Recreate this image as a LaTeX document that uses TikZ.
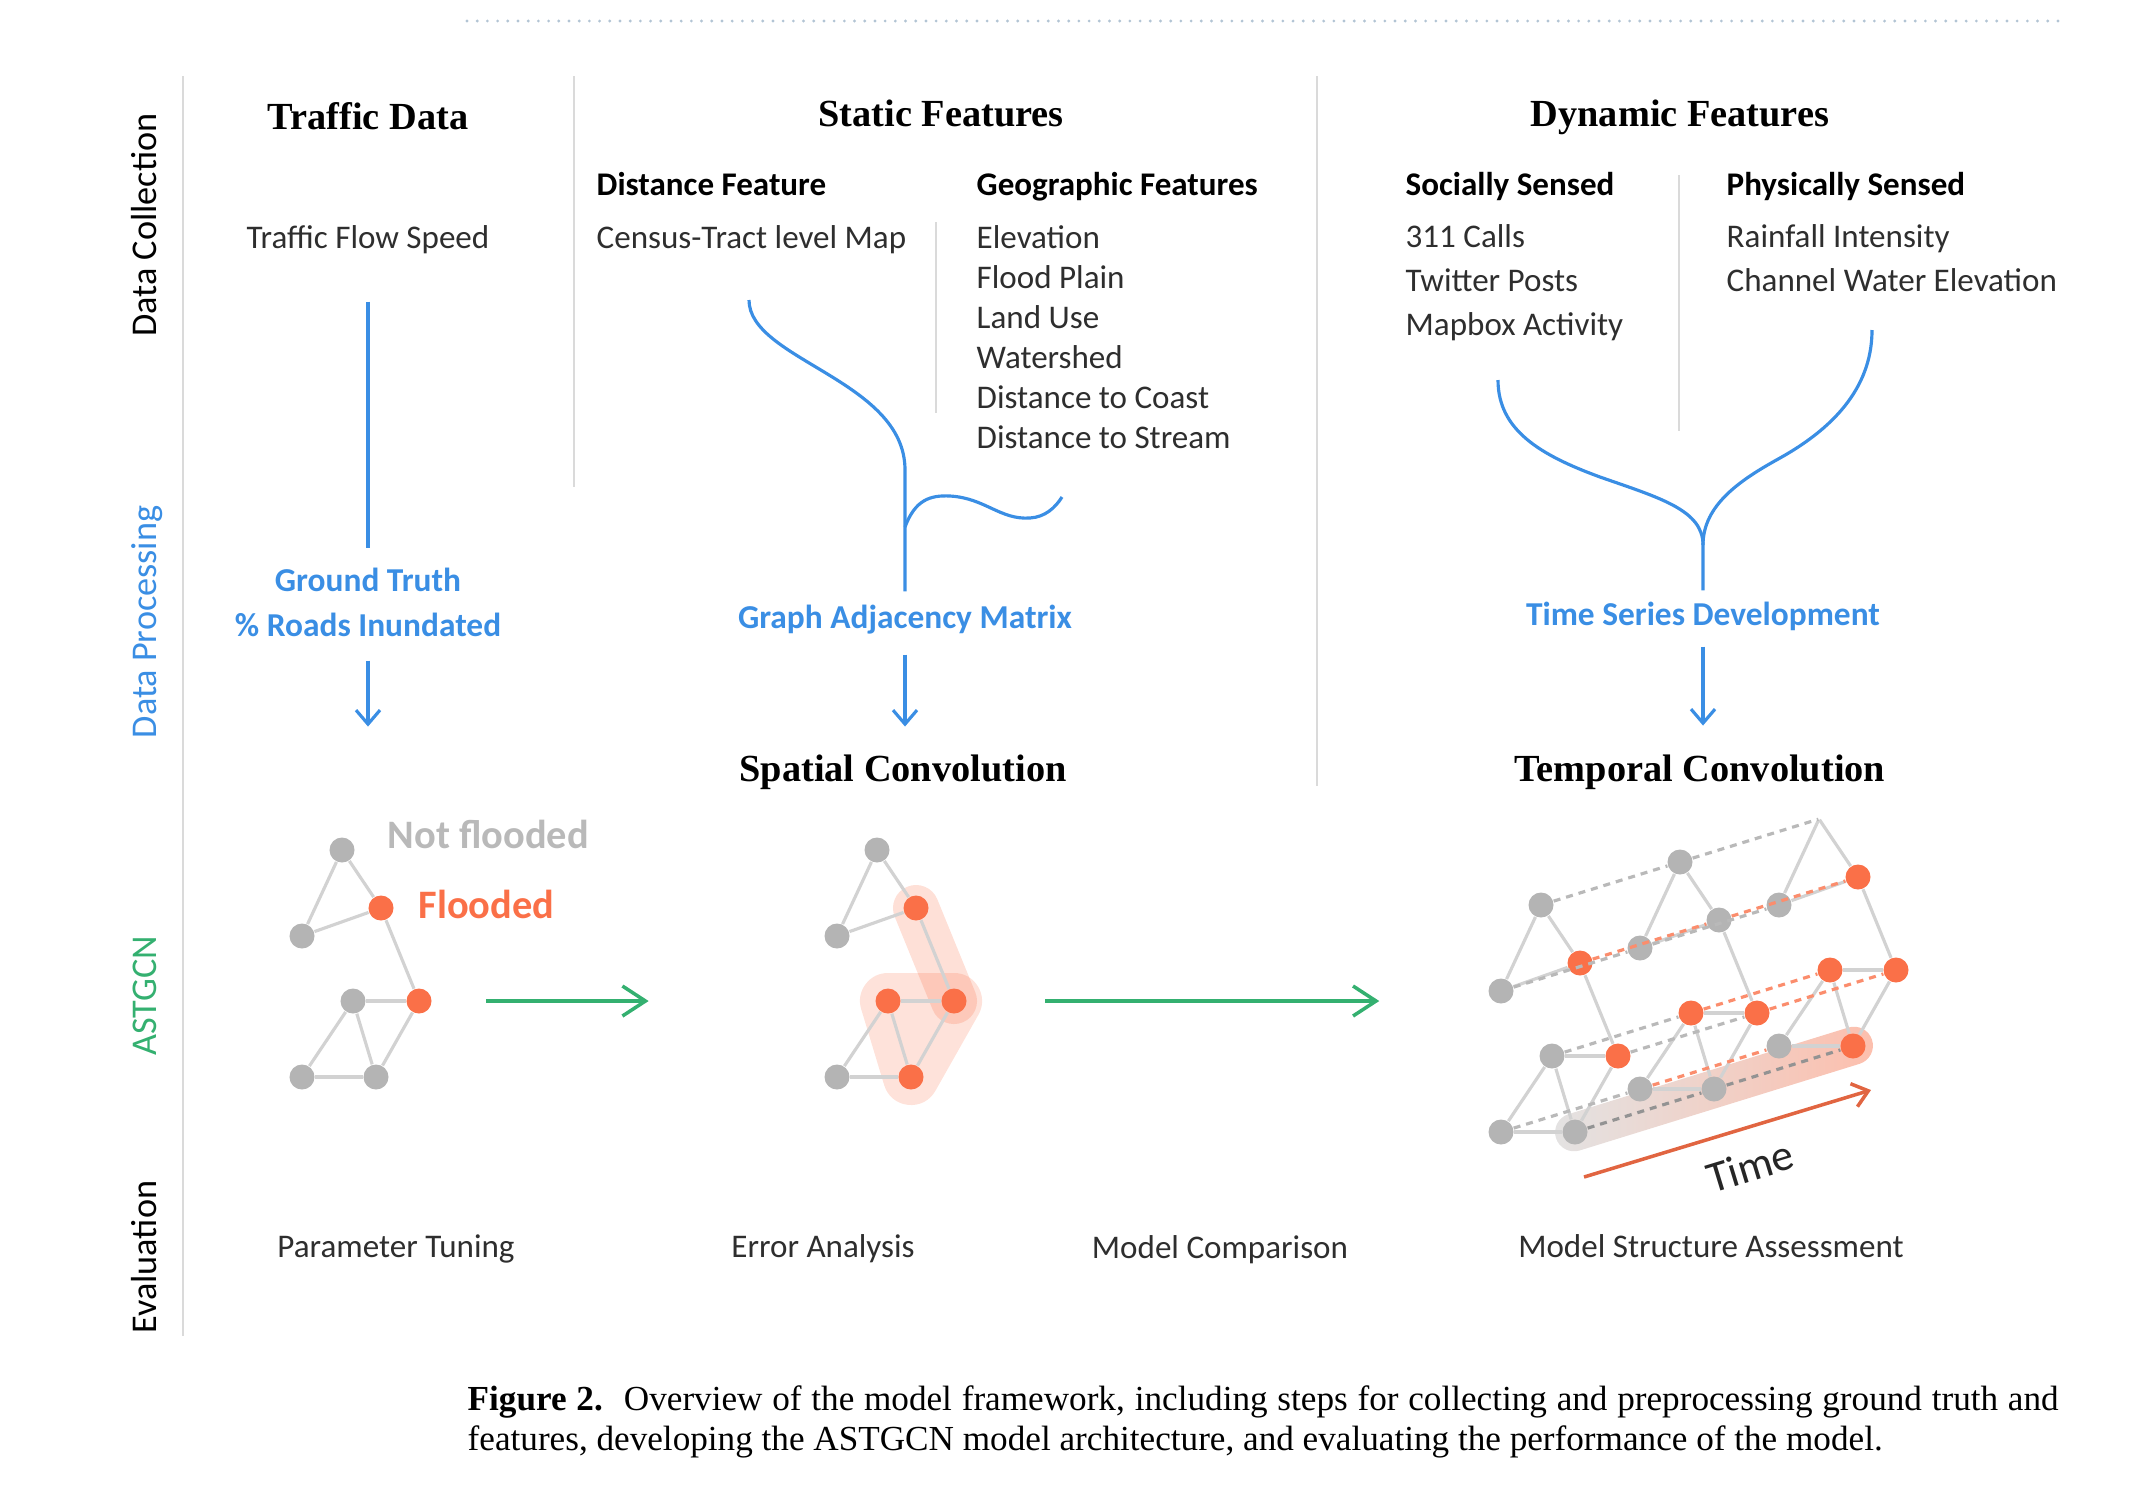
\documentclass[tikz,border=0pt]{standalone}
\usepackage{fontspec}
\setmainfont{Liberation Serif}
\newfontfamily\calib{Carlito}
\usepackage{xcolor}
\usetikzlibrary{arrows.meta, positioning, backgrounds}

\definecolor{procblue}{RGB}{58,142,228}
\definecolor{astgreen}{RGB}{52,176,112}
\definecolor{floodorange}{RGB}{250,112,72}
\definecolor{nodegray}{RGB}{180,180,180}
\definecolor{sepgray}{RGB}{218,218,218}
\definecolor{dotblue}{RGB}{178,196,212}
\colorlet{tgray}{gray!55}
\colorlet{torange}{floodorange!80}
\colorlet{tdark}{gray!85}

\begin{document}
\begin{tikzpicture}[x=0.01cm, y=-0.01cm,
    txt/.style={inner sep=0pt, text height=7pt, text depth=2pt},
    body/.style={txt, font=\calib\fontsize{9.4}{11}\selectfont, text=black!82},
    subhead/.style={txt, font=\calib\bfseries\fontsize{9.4}{11}\selectfont},
    headtxt/.style={txt, text height=8pt, text depth=2.5pt, font=\bfseries\fontsize{10.9}{13}\selectfont},
    rowlab/.style={txt, rotate=90, font=\calib\fontsize{10.3}{12}\selectfont},
    proc/.style={txt, font=\calib\bfseries\fontsize{9.5}{11}\selectfont, text=procblue},
    legtxt/.style={txt, text height=8.5pt, text depth=2.5pt, font=\calib\bfseries\fontsize{11.5}{13}\selectfont},
    capt/.style={inner sep=0pt, font=\fontsize{10}{12}\selectfont},
    divider/.style={sepgray, line width=0.6pt},
    procline/.style={procblue, line width=0.9pt},
    procarr/.style={procline, -{Straight Barb[length=1.4mm, width=2.4mm]}},
    greenarr/.style={astgreen, line width=1pt, -{Straight Barb[length=2.3mm, width=3mm]}},
    timearr/.style={floodorange!90!black, line width=1pt, -{Straight Barb[length=1.5mm, width=2.4mm]}},
    gnode/.style={circle, fill=nodegray, minimum size=2.5mm, inner sep=0pt},
    fnode/.style={gnode, fill=floodorange},
    hid/.style={inner sep=0pt, minimum size=0pt},
    gedge/.style={gray!35, line width=0.9pt},
    tline/.style={line width=0.9pt, dash pattern=on 2pt off 1.7pt},
  ]
  \useasboundingbox (0,0) rectangle (2155,1490);

  % top rule
  \draw[dotblue, line width=0.9pt, line cap=round, dash pattern=on 0pt off 2.9pt] (467,21) -- (2058,21);

  % row labels
  \node[rowlab] (rcoll) at (148,225) {Data Collection};
  \node[rowlab, text=procblue] (rproc) at (148,622) {Data Processing};
  \node[rowlab, text=astgreen] (rastg) at (148,996) {ASTGCN};
  \node[rowlab] (reval) at (148,1257) {Evaluation};

  % dividers
  \draw[divider] (183,76) -- (183,1336);
  \draw[divider] (574,76) -- (574,487);
  \draw[divider] (1317,76) -- (1317,786);
  \draw[divider] (936,222) -- (936,413);
  \draw[divider] (1679,175) -- (1679,431);

  % headings
  \node[headtxt] (trafhead) at (368,120) {Traffic Data};
  \node[headtxt] (stathead) at (941,117) {Static Features};
  \node[headtxt] (dynhead) at (1680,117) {Dynamic Features};
  \node[headtxt] (spconv) at (903,772) {Spatial Convolution};
  \node[headtxt] (tmconv) at (1700,772) {Temporal Convolution};

  \node[subhead, anchor=west] (distf) at (596,187) {Distance Feature};
  \node[subhead, anchor=west] (geof) at (976,187) {Geographic Features};
  \node[subhead, anchor=west] (socf) at (1405,187) {Socially Sensed};
  \node[subhead, anchor=west] (phyf) at (1726,187) {Physically Sensed};

  % data collection lists
  \node[body] (tfs) at (368,240) {Traffic Flow Speed};
  \node[body, anchor=west] (census) at (596,240) {Census-Tract level Map};
  \foreach \t [count=\i] in {Elevation, Flood Plain, Land Use, Watershed, Distance to Coast, Distance to Stream}
    \node[body, anchor=west] (geo\i) at (976,200+40*\i) {\t};
  \foreach \t [count=\i] in {311 Calls, Twitter Posts, Mapbox Activity}
    \node[body, anchor=west] (soc\i) at (1405,195+44*\i) {\t};
  \foreach \t [count=\i] in {Rainfall Intensity, Channel Water Elevation}
    \node[body, anchor=west] (phy\i) at (1726,195+44*\i) {\t};

  % data processing
  \node[proc] (gt) at (368,583) {Ground Truth};
  \node[proc] (rdi) at (368,628) {\% Roads Inundated};
  \node[proc] (gam) at (905,620) {Graph Adjacency Matrix};
  \node[proc] (tsd) at (1703,617) {Time Series Development};

  \draw[procline] ([yshift=-4.5mm]tfs.south) -- ([yshift=1.8mm]gt.north);
  \draw[procarr] ([yshift=-1.6mm]rdi.south) -- ++(0,66);

  \coordinate (cen-out) at (749,300);
  \coordinate (geo-out) at (1062,497);
  \coordinate (gam-join) at (905,527);
  \draw[procline] (cen-out) .. controls (749,360) and (905,380) .. (905,470) -- ([yshift=1.2mm]gam.north);
  \draw[procline] (geo-out) .. controls (1055,508) and (1045,517) .. (1030,518)
    .. controls (1000,520) and (985,498) .. (950,496)
    .. controls (930,495) and (915,500) .. (gam-join);
  \draw[procarr] ([yshift=-1.8mm]gam.south) -- ++(0,72);

  \coordinate (soc-out) at (1498,380);
  \coordinate (phy-out) at (1872,330);
  \coordinate (tsd-join) at (1703,545);
  \draw[procline] (soc-out) .. controls (1498,430) and (1540,455) .. (1600,477)
    .. controls (1660,498) and (1703,510) .. (tsd-join) -- ([yshift=1mm]tsd.north);
  \draw[procline] (phy-out) .. controls (1872,390) and (1830,430) .. (1780,458)
    .. controls (1740,480) and (1703,505) .. (tsd-join);
  \draw[procarr] ([yshift=-1.3mm]tsd.south) -- ++(0,79);

  % ASTGCN graphs: p = legend graph, q = spatial, r/s/t = time steps
  \foreach \n/\x/\y/\cP/\cQ/\cR/\cS/\cT in {
      a/342/850/gnode/gnode/gnode/gnode/hid,
      b/381/908/fnode/fnode/fnode/gnode/fnode,
      c/302/936/gnode/gnode/gnode/gnode/gnode,
      d/353/1001/gnode/fnode/gnode/fnode/fnode,
      e/419/1001/fnode/fnode/fnode/fnode/fnode,
      f/302/1077/gnode/gnode/gnode/gnode/gnode,
      g/376/1077/gnode/fnode/gnode/gnode/fnode}{
    \node[\cP] (p\n) at (\x,\y) {};
    \node[\cQ] (q\n) at (\x+535,\y) {};
    \node[\cR] (r\n) at (\x+1199,\y+55) {};
    \node[\cS] (s\n) at (\x+1338,\y+12) {};
    \node[\cT] (t\n) at (\x+1477,\y-31) {};
  }
  \foreach \gr in {p,q,r,s,t}
    \foreach \ea/\eb in {a/b, a/c, c/b, b/e, d/e, d/f, d/g, f/g, e/g}
      \draw[gedge] (\gr\ea) -- (\gr\eb);

  % time links
  \foreach \n/\ca/\cb in {a/tgray/tgray, b/torange/torange, c/tgray/tgray, d/tgray/torange,
      e/tgray/torange, f/tgray/torange, g/tdark/tdark}{
    \draw[tline, \ca] (r\n) -- (s\n);
    \draw[tline, \cb] (s\n) -- (t\n);
  }

  \begin{scope}[on background layer]
    \filldraw[fill=floodorange!20, draw=floodorange!20, line width=5.6mm, line join=round]
      (qd.center) -- (qe.center) -- (qg.center) -- cycle;
    \draw[floodorange, opacity=0.22, line width=4.6mm, line cap=round] (qb.center) -- (qe.center);
    \begin{scope}[shift={(rg.center)}, rotate=17.2]
      \shade[left color=gray!22, right color=floodorange!45, rounded corners=1.9mm]
        (-20,-19) rectangle (311,19);
    \end{scope}
  \end{scope}

  \node[legtxt, text=gray!55, anchor=west] (notfl) at (387,838) {Not flooded};
  \node[legtxt, text=floodorange, anchor=west] (fl) at (418,908) {Flooded};

  \draw[greenarr] ([xshift=5.4mm]pe.east) -- ([xshift=-22.6mm]qd.west);
  \draw[greenarr] ([xshift=7.8mm]qe.east) -- ++(334,0);

  \coordinate (t0) at (1584,1177);
  \coordinate (t1) at (1871,1090);
  \draw[timearr] (t0) -- (t1);
  \node[rotate=17, inner sep=0pt, font=\calib\fontsize{12.5}{14}\selectfont, text=black!85] (timelab) at (1750,1166) {Time};

  % evaluation
  \node[body] (ptune) at (396,1249) {Parameter Tuning};
  \node[body] (erran) at (823,1249) {Error Analysis};
  \node[body] (mcomp) at (1220,1250) {Model Comparison};
  \node[body] (mstruct) at (1711,1249) {Model Structure Assessment};

  % caption
  \node[capt, anchor=base west] (cap1) at (467,1410)
    {\makebox[15.9cm][s]{\textbf{Figure 2.}\hspace{0.6em}Overview of the model framework, including steps for collecting and preprocessing ground truth and}};
  \node[capt, anchor=base west] (cap2) at (467,1450)
    {features, developing the ASTGCN model architecture, and evaluating the performance of the model.};
\end{tikzpicture}
\end{document}
